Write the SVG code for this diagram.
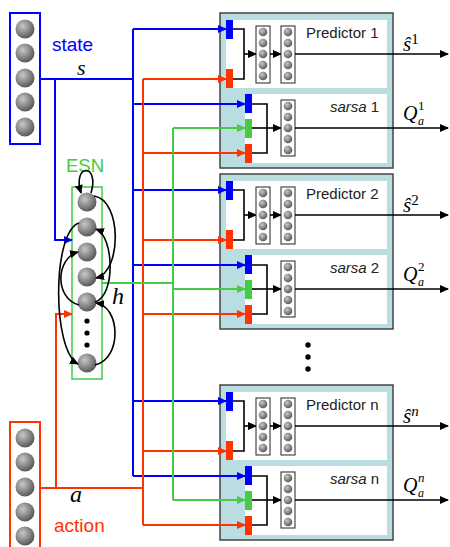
<svg xmlns="http://www.w3.org/2000/svg" xmlns:xlink="http://www.w3.org/1999/xlink" width="450" height="547" viewBox="0 0 450 547">
<style>
.sans{font-family:"Liberation Sans",Arial,sans-serif}
.math{font-family:"Liberation Serif","Times New Roman",serif;font-style:italic}
.up{font-style:normal}
.mod{fill:#b9dde0;stroke:#444;stroke-width:1.5}
.wh{fill:#fff}
.lay{fill:#fff;stroke:#222;stroke-width:1}
.k{fill:none;stroke:#000;stroke-width:1.6}
.b{fill:none;stroke:#0000ff;stroke-width:2}
.r{fill:none;stroke:#ff3300;stroke-width:2}
.g{fill:none;stroke:#44cc44;stroke-width:2}
.lbl{font-size:15px;fill:#222}
.sup{font-size:13px}
.sub{font-size:12px}
</style>
<defs>
<radialGradient id="ball" cx="0.38" cy="0.35" r="0.65">
<stop offset="0" stop-color="#c8c8c8"/>
<stop offset="1" stop-color="#5a5a5a"/>
</radialGradient>
<marker id="ak" markerUnits="userSpaceOnUse" markerWidth="9" markerHeight="8" refX="8" refY="4" orient="auto"><path d="M0,0 L9,4 L0,8 z" fill="#000"/></marker>
<marker id="ab" markerUnits="userSpaceOnUse" markerWidth="9" markerHeight="8" refX="8" refY="4" orient="auto"><path d="M0,0 L9,4 L0,8 z" fill="#0000ff"/></marker>
<marker id="ar" markerUnits="userSpaceOnUse" markerWidth="9" markerHeight="8" refX="8" refY="4" orient="auto"><path d="M0,0 L9,4 L0,8 z" fill="#ff3300"/></marker>
<marker id="ag" markerUnits="userSpaceOnUse" markerWidth="9" markerHeight="8" refX="8" refY="4" orient="auto"><path d="M0,0 L9,4 L0,8 z" fill="#44cc44"/></marker>
<g id="layer5">
<circle cx="0" cy="0" r="4.3" fill="url(#ball)"/>
<circle cx="0" cy="11" r="4.3" fill="url(#ball)"/>
<circle cx="0" cy="22" r="4.3" fill="url(#ball)"/>
<circle cx="0" cy="33" r="4.3" fill="url(#ball)"/>
<circle cx="0" cy="44" r="4.3" fill="url(#ball)"/>
</g>
<g id="modBody">
<rect class="mod" x="220" y="13" width="173" height="155"/>
<rect class="wh" x="226" y="20" width="161" height="68"/>
<rect class="wh" x="245" y="94" width="142" height="69"/>
<rect x="226" y="20" width="7" height="19" fill="#0000ff"/>
<rect x="226" y="69" width="7" height="19" fill="#ff3300"/>
<path class="k" d="M233 29 H244 V79 H233"/>
<path class="k" d="M244 54 H256" marker-end="url(#ak)"/>
<rect class="lay" x="256" y="26" width="14" height="57"/>
<use xlink:href="#layer5" x="263" y="32"/>
<path class="k" d="M270 54 H281" marker-end="url(#ak)"/>
<rect class="lay" x="281" y="26" width="14" height="57"/>
<use xlink:href="#layer5" x="288" y="32"/>
<path class="k" d="M295 54 H448" stroke-width="2" marker-end="url(#ak)"/>
<rect x="245" y="94" width="7" height="19" fill="#0000ff"/>
<rect x="245" y="119" width="7" height="19" fill="#44cc44"/>
<rect x="245" y="144" width="7" height="19" fill="#ff3300"/>
<path class="k" d="M252 104 H267 V153 H252"/>
<path class="k" d="M252 128 H281" marker-end="url(#ak)"/>
<rect class="lay" x="281" y="100" width="14" height="56"/>
<use xlink:href="#layer5" x="288" y="106"/>
<path class="k" d="M295 128 H448" stroke-width="2" marker-end="url(#ak)"/>
</g>
</defs>

<g id="state">
<rect x="10" y="13" width="30" height="131" fill="#fff" stroke="#0000ff" stroke-width="2"/>
<circle cx="25" cy="29" r="9.5" fill="url(#ball)"/>
<circle cx="25" cy="53" r="9.5" fill="url(#ball)"/>
<circle cx="25" cy="78" r="9.5" fill="url(#ball)"/>
<circle cx="25" cy="102" r="9.5" fill="url(#ball)"/>
<circle cx="25" cy="127" r="9.5" fill="url(#ball)"/>
<text class="sans" x="52" y="51" font-size="19" fill="#0000ff">state</text>
</g>

<g id="action">
<rect x="10" y="422" width="30" height="130" fill="#fff" stroke="#ff3300" stroke-width="2"/>
<circle cx="25" cy="438" r="9.5" fill="url(#ball)"/>
<circle cx="25" cy="462" r="9.5" fill="url(#ball)"/>
<circle cx="25" cy="487" r="9.5" fill="url(#ball)"/>
<circle cx="25" cy="512" r="9.5" fill="url(#ball)"/>
<circle cx="25" cy="536" r="9.5" fill="url(#ball)"/>
<text class="sans" x="54" y="532" font-size="19" fill="#ff3300">action</text>
</g>

<g id="esn">
<text class="sans" x="66" y="172" font-size="18.5" fill="#44cc44">ESN</text>
<rect x="72" y="187" width="30" height="192" fill="#fff" stroke="#44cc44" stroke-width="1.5"/>
<circle cx="87" cy="202" r="9.5" fill="url(#ball)"/>
<circle cx="87" cy="227" r="9.5" fill="url(#ball)"/>
<circle cx="87" cy="252" r="9.5" fill="url(#ball)"/>
<circle cx="87" cy="277" r="9.5" fill="url(#ball)"/>
<circle cx="87" cy="302" r="9.5" fill="url(#ball)"/>
<circle cx="87" cy="321" r="2.6" fill="#000"/>
<circle cx="87" cy="333" r="2.6" fill="#000"/>
<circle cx="87" cy="345" r="2.6" fill="#000"/>
<circle cx="87" cy="363" r="9.5" fill="url(#ball)"/>
</g>

<g id="module1">
<use xlink:href="#modBody"/>
<text class="sans lbl" x="306" y="38">Predictor 1</text>
<text class="sans lbl" x="330" y="112"><tspan font-style="italic">sarsa</tspan> 1</text>
<text class="math" x="403" y="51" font-size="21">ŝ<tspan class="up" font-size="15" dy="-7">1</tspan></text>
<text class="math" x="403" y="120" font-size="20">Q</text>
<text class="math up sup" x="418" y="110">1</text>
<text class="math sub" x="418" y="125">a</text>
</g>

<g id="module2">
<use xlink:href="#modBody" y="161"/>
<text class="sans lbl" x="306" y="199">Predictor 2</text>
<text class="sans lbl" x="330" y="273"><tspan font-style="italic">sarsa</tspan> 2</text>
<text class="math" x="403" y="212" font-size="21">ŝ<tspan class="up" font-size="15" dy="-7">2</tspan></text>
<text class="math" x="403" y="281" font-size="20">Q</text>
<text class="math up sup" x="418" y="271">2</text>
<text class="math sub" x="418" y="286">a</text>
</g>

<g id="dots">
<circle cx="308" cy="345" r="2.7" fill="#000"/>
<circle cx="308" cy="357" r="2.7" fill="#000"/>
<circle cx="308" cy="369" r="2.7" fill="#000"/>
</g>

<g id="moduleN">
<use xlink:href="#modBody" y="372"/>
<text class="sans lbl" x="306" y="410">Predictor n</text>
<text class="sans lbl" x="330" y="484"><tspan font-style="italic">sarsa</tspan> n</text>
<text class="math" x="403" y="423" font-size="21">ŝ<tspan font-size="15" dy="-7">n</tspan></text>
<text class="math" x="403" y="492" font-size="20">Q</text>
<text class="math sup" x="418" y="482">n</text>
<text class="math sub" x="418" y="497">a</text>
</g>

<g id="connectors">
<path class="b" d="M40 79 H133" stroke-width="2.6"/>
<path class="b" d="M133 29 V476"/>
<path class="b" d="M55 79 V240 H72" marker-end="url(#ab)"/>
<path class="b" d="M133 29 H226" marker-end="url(#ab)"/>
<path class="b" d="M133 104 H245" marker-end="url(#ab)"/>
<path class="b" d="M133 190 H226" marker-end="url(#ab)"/>
<path class="b" d="M133 265 H245" marker-end="url(#ab)"/>
<path class="b" d="M133 401 H226" marker-end="url(#ab)"/>
<path class="b" d="M133 476 H245" marker-end="url(#ab)"/>
<path class="r" d="M40 488 H143" stroke-width="3"/>
<path class="r" d="M143 79 V525"/>
<path class="r" d="M56 488 V314 H72" marker-end="url(#ar)"/>
<path class="r" d="M143 79 H226" marker-end="url(#ar)"/>
<path class="r" d="M143 153 H245" marker-end="url(#ar)"/>
<path class="r" d="M143 240 H226" marker-end="url(#ar)"/>
<path class="r" d="M143 314 H245" marker-end="url(#ar)"/>
<path class="r" d="M143 451 H226" marker-end="url(#ar)"/>
<path class="r" d="M143 525 H245" marker-end="url(#ar)"/>
<path class="g" d="M102 283 H173"/>
<path class="g" d="M173 128 V500"/>
<path class="g" d="M173 128 H245" marker-end="url(#ag)"/>
<path class="g" d="M173 289 H245" marker-end="url(#ag)"/>
<path class="g" d="M173 500 H245" marker-end="url(#ag)"/>
<path class="k" d="M91 193 C100 163 72 163 81 193" marker-end="url(#ak)"/>
<path class="k" d="M94 196 C122 200 122 272 96 278" marker-end="url(#ak)"/>
<path class="k" d="M95 302 C116 296 114 236 96 229" marker-end="url(#ak)"/>
<path class="k" d="M95 365 C123 358 120 306 96 303" marker-end="url(#ak)"/>
<path class="k" d="M79 223 C52 232 52 350 78 364" marker-end="url(#ak)"/>
<path class="k" d="M79 305 C54 298 56 258 78 252" marker-end="url(#ak)"/>
<text class="math" x="77" y="75" font-size="22">s</text>
<text class="math" x="70" y="502" font-size="24">a</text>
<text class="math" x="112" y="304" font-size="24">h</text>
</g>
</svg>
